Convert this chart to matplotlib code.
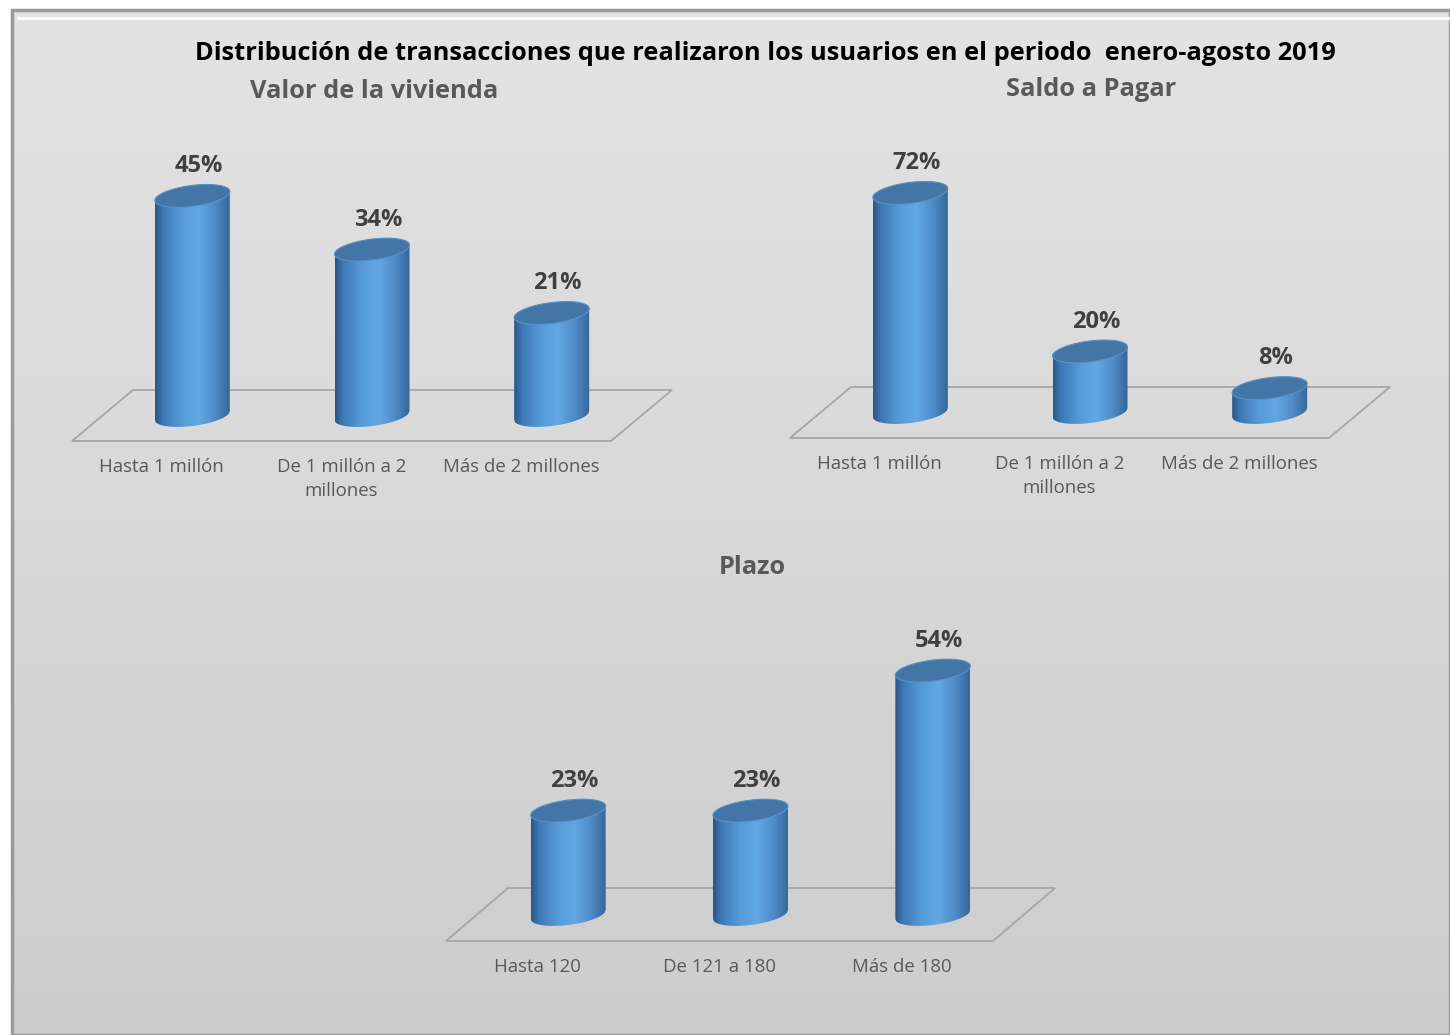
import numpy as np
import matplotlib.pyplot as plt
from matplotlib.patches import Polygon, Rectangle
from matplotlib.colors import LinearSegmentedColormap

plt.rcParams['font.family'] = ['Open Sans', 'DejaVu Sans']

titulo = 'Distribución de transacciones que realizaron los usuarios en el periodo  enero-agosto 2019'

vivienda_cats = ['Hasta 1 millón', 'De 1 millón a 2\nmillones', 'Más de 2 millones']
vivienda_vals = [45, 34, 21]

saldo_cats = ['Hasta 1 millón', 'De 1 millón a 2\nmillones', 'Más de 2 millones']
saldo_vals = [72, 20, 8]

plazo_cats = ['Hasta 120', 'De 121 a 180', 'Más de 180']
plazo_vals = [23, 23, 54]

W, H = 1450, 1035
fig = plt.figure(figsize=(W / 100, H / 100), dpi=100)
fig.patch.set_facecolor('white')

# fondo gris con degradado vertical y marco
bg = fig.add_axes([12 / W, 0, 1 - 12 / W, 1 - 10 / H])
bg.axis('off')
grad = np.linspace(0, 1, 256).reshape(-1, 1)
bg_cmap = LinearSegmentedColormap.from_list('bg', ['#e3e3e3', '#cdcdcd'])
bg.imshow(grad, cmap=bg_cmap, aspect='auto', extent=[0, 1, 0, 1], origin='upper')
bg.set_xlim(0, 1)
bg.set_ylim(0, 1)
bg.add_patch(Rectangle((0, 0), 1, 1, transform=bg.transAxes, fill=False,
                       edgecolor='#9a9a9a', lw=2.5, clip_on=False))
bg.plot([0.004, 1], [0.992, 0.992], color='white', lw=2, transform=bg.transAxes)

body_cmap = LinearSegmentedColormap.from_list(
    'body', [(0.0, '#2b5684'), (0.1, '#3d78b4'), (0.35, '#569ad8'),
             (0.58, '#63a8e6'), (0.8, '#4f8cc8'), (1.0, '#36679a')])
body_grad = np.linspace(0, 1, 128).reshape(1, -1)
TOP = '#4375a7'
R, B, TILT = 37.5, 10.5, 0.12
EXT = 60  # píxeles bajo la base para el piso y las etiquetas


def cylinder(ax, xc, val, sx, sy):
    # sección elíptica inclinada (elipse con cizalla) en píxeles
    t = np.linspace(0, 2 * np.pi, 160)
    ex = R * np.cos(t)
    ey = B * np.sin(t) + TILT * ex
    front = np.linspace(-R, R, 80)
    arc = -B * np.sqrt(np.clip(1 - (front / R) ** 2, 0, 1)) + TILT * front
    body = [(xc + x / sx, y / sy) for x, y in zip(front, arc)]
    body += [(xc + x / sx, val + y / sy) for x, y in zip(front[::-1], arc[::-1])]
    shape = Polygon(body, closed=True, facecolor='none', edgecolor='none')
    ax.add_patch(shape)
    im = ax.imshow(body_grad, cmap=body_cmap, aspect='auto', zorder=3,
                   extent=[xc - R / sx, xc + R / sx, -2 * B / sy, val + 2 * B / sy])
    im.set_clip_path(shape)
    top = np.column_stack([xc + ex / sx, val + ey / sy])
    ax.add_patch(Polygon(top, closed=True, facecolor=TOP, edgecolor='#5a8fc4',
                         lw=0.8, zorder=4))


def panel(x_left, x_right, y_base, y_top, ymax, cats, vals, depth, subtitle, sub_xy):
    ymin = -EXT * ymax / (y_base - y_top)
    ax = fig.add_axes([x_left / W, 1 - (y_base + EXT) / H,
                       (x_right - x_left) / W, (y_base + EXT - y_top) / H])
    ax.axis('off')
    ax.set_xlim(0, len(cats))
    ax.set_ylim(ymin, ymax)
    p0 = ax.transData.transform((0, 0))
    p1 = ax.transData.transform((1, 1))
    sx, sy = p1[0] - p0[0], p1[1] - p0[1]
    dx, dy = depth[0] / sx, depth[1] / sy
    n = len(cats)
    floor = [(-dx, -dy), (n - dx, -dy), (n + dx, dy), (dx, dy)]
    ax.add_patch(Polygon(floor, closed=True, fill=False, edgecolor='#a6a6a6',
                         lw=1.3, clip_on=False, zorder=1))
    for i, (c, v) in enumerate(zip(cats, vals)):
        xc = i + 0.5
        cylinder(ax, xc, v, sx, sy)
        ax.annotate(f'{v}%', (xc, v), xytext=(6, 18), textcoords='offset pixels',
                    ha='center', va='bottom', fontsize=17, fontweight='bold',
                    color='#404040', zorder=5, annotation_clip=False)
        ax.annotate(c, (xc - dx, -dy), xytext=(0, -17), textcoords='offset pixels',
                    ha='center', va='top', fontsize=13.4, color='#595959',
                    linespacing=1.45, annotation_clip=False)
    ax.set_xlim(0, len(cats))
    ax.set_ylim(ymin, ymax)
    fig.text(sub_xy[0] / W, 1 - sub_xy[1] / H, subtitle, ha='center', va='center',
             fontsize=18.3, fontweight='bold', color='#595959')
    return ax


fig.text(765 / W, 1 - 54 / H, titulo, ha='center', va='center', fontsize=18.3,
         fontweight='bold', color='black')

panel(102.5, 641.5, 415.5, 171.5, 50, vivienda_cats, vivienda_vals,
      (30.5, 25.5), 'Valor de la vivienda', (374, 92))
panel(820.5, 1359.5, 412.5, 168.5, 80, saldo_cats, saldo_vals,
      (30.5, 25.5), 'Saldo a Pagar', (1091, 90))
panel(477, 1024, 914.5, 643.5, 60, plazo_cats, plazo_vals,
      (31, 26.5), 'Plazo', (752, 568))

fig.savefig('out.png', dpi=100)
